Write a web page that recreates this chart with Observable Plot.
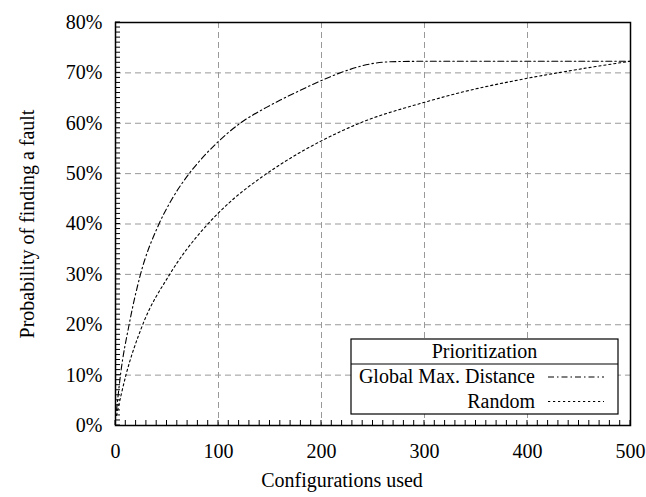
<!DOCTYPE html>
<html>
<head>
<meta charset="utf-8">
<script src="https://cdn.jsdelivr.net/npm/d3@7"></script>
<script src="https://cdn.jsdelivr.net/npm/@observablehq/plot@0.6"></script>
<style>
  html, body { margin: 0; padding: 0; background: white; }
</style>
</head>
<body>
<div id="chart"></div>
<script>
// Data
const globalX = [1, 5, 13, 24, 42, 55, 70, 82, 99, 121, 147, 160, 180, 199, 225, 248, 267, 299, 400, 500];
const globalY = [0.03, 0.103, 0.198, 0.298, 0.399, 0.450, 0.496, 0.526, 0.562, 0.600, 0.632, 0.646, 0.666, 0.684, 0.705, 0.718, 0.722, 0.723, 0.723, 0.723];

const randomX = [1, 10, 26, 52, 87, 100, 113, 144, 160, 180, 199, 238, 299, 341, 384, 432, 490, 500];
const randomY = [0.02, 0.099, 0.198, 0.298, 0.394, 0.422, 0.447, 0.496, 0.518, 0.543, 0.564, 0.601, 0.641, 0.664, 0.683, 0.701, 0.720, 0.723];

const seriesNames = ["Global Max. Distance", "Random"];
const legendTitle = "Prioritization";
const xLabel = "Configurations used";
const yLabel = "Probability of finding a fault";

const xTicks = [0, 100, 200, 300, 400, 500];
const yTicks = [0, 0.1, 0.2, 0.3, 0.4, 0.5, 0.6, 0.7, 0.8];
const xGrid = [100, 200, 300, 400];
const yGrid = [0.1, 0.2, 0.3, 0.4, 0.5, 0.6, 0.7];
const xMinor = d3.range(0, 501, 10);
const yMinor = d3.range(0, 81, 1).map(d => d / 100);

const globalData = globalX.map((x, i) => ({x, y: globalY[i]}));
const randomData = randomX.map((x, i) => ({x, y: randomY[i]}));

const dashDot = "6,3,1.5,3";
const dotted = "2.2,2.8";

// find an installed serif (Times-like) family
function pickFont(cands) {
  const c = document.createElement("canvas").getContext("2d");
  const s = "Global Max. Distance 0123456789% Wig";
  const bases = ["monospace", "sans-serif"];
  const bw = bases.map(b => { c.font = "40px " + b; return c.measureText(s).width; });
  for (const f of cands) {
    const ok = bases.every((b, i) => { c.font = `40px "${f}", ${b}`; return Math.abs(c.measureText(s).width - bw[i]) > 0.5; });
    if (ok) return f;
  }
  return null;
}
const found = pickFont(["Liberation Serif", "Times New Roman", "Times", "Tinos", "Nimbus Roman", "FreeSerif", "Noto Serif", "DejaVu Serif"]);
const font = found ? `"${found}", serif` : "serif";

const W = 646, H = 497, mL = 115, mR = 16, mT = 22, mB = 72;

const chart = Plot.plot({
  width: W,
  height: H,
  marginLeft: mL,
  marginRight: mR,
  marginTop: mT,
  marginBottom: mB,
  style: {fontFamily: font, fontSize: "20px", background: "white", color: "black", overflow: "visible"},
  x: {domain: [0, 500]},
  y: {domain: [0, 0.8]},
  marks: [
    Plot.gridX(xGrid, {stroke: "#999", strokeOpacity: 1, strokeDasharray: "6,4"}),
    Plot.gridY(yGrid, {stroke: "#999", strokeOpacity: 1, strokeDasharray: "6,4"}),
    Plot.axisX(xTicks, {tickSize: 0, tickPadding: 18, tickFormat: d => String(d), label: null, fontSize: 20}),
    Plot.axisY(yTicks, {tickSize: 0, tickPadding: 13, tickFormat: d3.format(".0%"), label: null, fontSize: 20}),
    Plot.line(randomData, {x: "x", y: "y", stroke: "black", strokeWidth: 1.1, strokeDasharray: dotted, curve: "monotone-x"}),
    Plot.line(globalData, {x: "x", y: "y", stroke: "black", strokeWidth: 1.1, strokeDasharray: dashDot, curve: "monotone-x"}),
    Plot.frame({stroke: "black", strokeWidth: 1.5}),
    Plot.text([xLabel], {frameAnchor: "bottom", dx: -31, dy: 61.6, text: d => d, fontSize: 20}),
    Plot.text([yLabel], {frameAnchor: "left", textAnchor: "middle", dx: -88.4, rotate: -90, text: d => d, fontSize: 20})
  ]
});

document.getElementById("chart").appendChild(chart);

const svg = d3.select(chart);

// inward minor ticks on the bottom and left axes, positioned with Plot's own scales
const sx = chart.scale("x"), sy = chart.scale("y");
const bottomY = H - mB, leftX = mL;
const tg = svg.append("g").attr("stroke", "black").attr("stroke-width", 1);
xMinor.forEach(v => {
  const px = sx.apply(v);
  tg.append("line").attr("x1", px).attr("x2", px).attr("y1", bottomY).attr("y2", bottomY - 5);
});
yMinor.forEach(v => {
  const py = sy.apply(v);
  tg.append("line").attr("x1", leftX).attr("x2", leftX + 5).attr("y1", py).attr("y2", py);
});

// Legend box inside the plot area (bottom-right)
const g = svg.append("g").attr("font-size", 20);
const bx = 351, by = 339, bw = 267, bh = 75, headerH = 25;
g.append("rect").attr("x", bx).attr("y", by).attr("width", bw).attr("height", bh)
  .attr("fill", "white").attr("stroke", "black").attr("stroke-width", 1.2);
g.append("line").attr("x1", bx).attr("x2", bx + bw).attr("y1", by + headerH).attr("y2", by + headerH)
  .attr("stroke", "black").attr("stroke-width", 1.2);
g.append("text").attr("x", bx + bw / 2).attr("y", 358).attr("text-anchor", "middle").text(legendTitle);
const rows = [{name: seriesNames[0], dash: dashDot, y: 383, ly: 377},
              {name: seriesNames[1], dash: dotted, y: 407.5, ly: 401.5}];
rows.forEach(r => {
  g.append("text").attr("x", 535).attr("y", r.y).attr("text-anchor", "end").text(r.name);
  g.append("line").attr("x1", 548).attr("x2", 604).attr("y1", r.ly).attr("y2", r.ly)
    .attr("stroke", "black").attr("stroke-width", 1.1).attr("stroke-dasharray", r.dash);
});

// force the serif family on every text element
svg.selectAll("text").attr("font-family", font).style("font-family", font);
</script>
</body>
</html>
